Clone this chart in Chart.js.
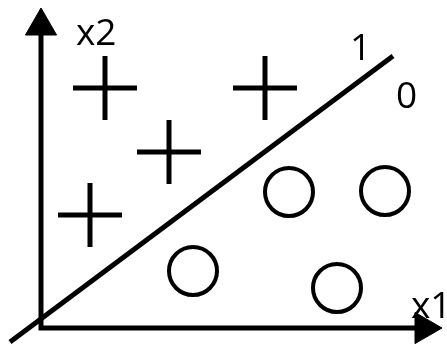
<!DOCTYPE html>
<html>
<head>
<meta charset="utf-8">
<script src="https://cdn.jsdelivr.net/npm/chart.js@4"></script>
<style>
  html, body { margin: 0; padding: 0; background: #fff; }
  #c { display: block; }
</style>
</head>
<body>
<canvas id="c" width="447" height="344"></canvas>
<script>
// class 1 samples (+) and class 0 samples (o), in x1/x2 units
const plusX = [6.4, 22.4, 12.8, 4.9];
const plusY = [24.0, 24.0, 17.6, 11.3];
const circleX = [24.8, 34.4, 15.2, 29.6];
const circleY = [13.6, 13.7, 5.7, 4.0];
// decision boundary end points
const boundaryX = [-3.1, 35.2];
const boundaryY = [-1.4, 27.2];
// axes: top of x2 axis, origin, end of x1 axis
const axisX = [0, 0, 38.3];
const axisY = [30.2, 0, 0];
// text labels
const labelTexts = ['x2', 'x1', '1', '0'];
const labelX = [3.5, 37.0, 30.9, 35.5];
const labelY = [28.3, 1.0, 26.8, 22.0];

const pts = (xs, ys) => xs.map((x, i) => ({ x: x, y: ys[i] }));

const textLabels = {
    id: 'textLabels',
    afterDatasetsDraw(chart) {
        const ctx = chart.ctx;
        const sx = chart.scales.x, sy = chart.scales.y;
        ctx.save();
        ctx.fillStyle = '#000';
        ctx.font = '37px "Open Sans"';
        ctx.textAlign = 'left';
        ctx.textBaseline = 'alphabetic';
        labelTexts.forEach((t, i) => {
            ctx.fillText(t, sx.getPixelForValue(labelX[i]), sy.getPixelForValue(labelY[i]));
        });
        ctx.restore();
    }
};

new Chart(document.getElementById('c').getContext('2d'), {
    type: 'scatter',
    data: {
        datasets: [
            {
                data: pts(axisX, axisY),
                showLine: true,
                borderColor: '#000',
                borderWidth: 5,
                borderJoinStyle: 'miter',
                pointStyle: 'triangle',
                pointRadius: [18, 0, 18],
                pointRotation: [0, 0, 90],
                pointBackgroundColor: '#000',
                pointBorderColor: '#000',
                pointBorderWidth: 1
            },
            {
                data: pts(boundaryX, boundaryY),
                showLine: true,
                borderColor: '#000',
                borderWidth: 5,
                pointRadius: 0
            },
            {
                data: pts(plusX, plusY),
                pointStyle: 'cross',
                pointRadius: 32,
                pointBorderColor: '#000',
                pointBorderWidth: 5
            },
            {
                data: pts(circleX, circleY),
                pointStyle: 'circle',
                pointRadius: 24,
                pointBackgroundColor: 'rgba(0,0,0,0)',
                pointBorderColor: '#000',
                pointBorderWidth: 4
            }
        ]
    },
    options: {
        responsive: false,
        animation: false,
        layout: { padding: 0, autoPadding: false },
        plugins: {
            legend: { display: false },
            tooltip: { enabled: false }
        },
        scales: {
            x: { type: 'linear', display: false, min: -4.1, max: 40.6 },
            y: { type: 'linear', display: false, min: -1.6, max: 32.8 }
        }
    },
    plugins: [textLabels]
});
</script>
</body>
</html>
